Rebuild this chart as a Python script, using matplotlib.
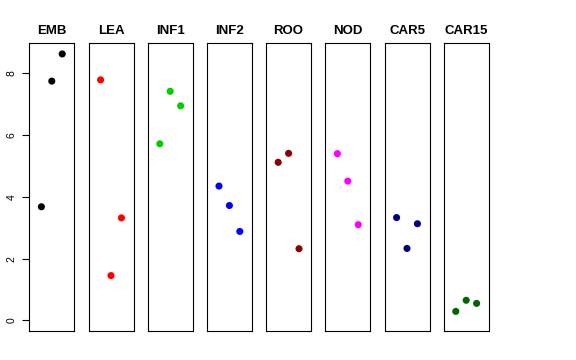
import matplotlib
matplotlib.use("Agg")
import matplotlib.pyplot as plt

plt.rcParams['font.family'] = ['Liberation Sans', 'DejaVu Sans']

# datos
grupos = ["EMB", "LEA", "INF1", "INF2", "ROO", "NOD", "CAR5", "CAR15"]
colores = ["black", "#FF0000", "#00CD00", "#0000FF", "#8B0000", "#FF00FF", "#000080", "#006400"]
posiciones = [1, 2, 3]
valores = [
    [3.68, 7.75, 8.63],
    [7.79, 1.45, 3.32],
    [5.72, 7.42, 6.95],
    [4.35, 3.72, 2.88],
    [5.12, 5.41, 2.32],
    [5.40, 4.51, 3.10],
    [3.33, 2.33, 3.13],
    [0.29, 0.65, 0.55],
]
yticks = [0, 2, 4, 6, 8]

fig = plt.figure(figsize=(5.76, 3.6), dpi=100)

izq = 29.3 / 576
ancho = 45.0 / 576
paso = 59.2 / 576
abajo = 1 - 331.0 / 360
alto = (331.0 - 43.3) / 360

for i, (nombre, col, vals) in enumerate(zip(grupos, colores, valores)):
    ax = fig.add_axes([izq + i * paso, abajo, ancho, alto])
    ax.scatter(posiciones, vals, s=26, color=col, edgecolors="none", zorder=3)
    ax.set_xlim(-0.16, 4.16)
    ax.set_ylim(-0.345, 8.975)
    ax.set_xticks([])
    ax.set_title(nombre, fontsize=9.5, fontweight="bold", pad=7)
    for s in ax.spines.values():
        s.set_linewidth(0.8)
    if i == 0:
        ax.set_yticks(yticks)
        ax.set_yticklabels([str(t) for t in yticks], rotation=90, va="center", fontsize=7.5)
        ax.tick_params(axis="y", length=5, width=0.8, pad=4)
    else:
        ax.set_yticks([])

fig.savefig("out.png", dpi=100)
